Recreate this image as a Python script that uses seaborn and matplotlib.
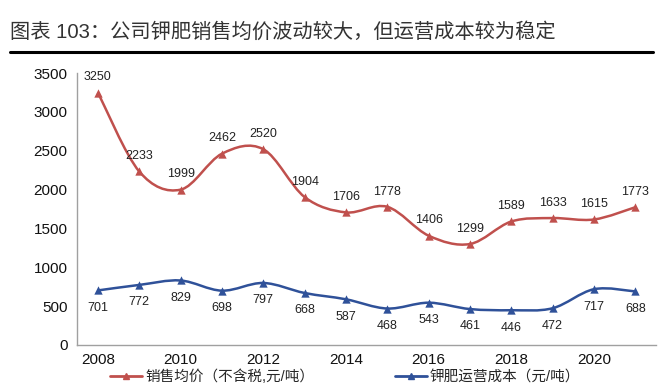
import numpy as np
import pandas as pd
import matplotlib
matplotlib.use("Agg")
import matplotlib.pyplot as plt
from matplotlib.path import Path
from matplotlib.patches import PathPatch
from matplotlib.lines import Line2D
import seaborn as sns

# data
years = [2008, 2009, 2010, 2011, 2012, 2013, 2014, 2015, 2016, 2017, 2018, 2019, 2020, 2021]
price = [3250, 2233, 1999, 2462, 2520, 1904, 1706, 1778, 1406, 1299, 1589, 1633, 1615, 1773]
cost = [701, 772, 829, 698, 797, 668, 587, 468, 543, 461, 446, 472, 717, 688]
price_label = "销售均价（不含税,元/吨）"
cost_label = "钾肥运营成本（元/吨）"
title = "图表 103：公司钾肥销售均价波动较大，但运营成本较为稳定"

red = "#C0504D"
blue = "#2F5199"

sns.set_style("white")
plt.rcParams["font.family"] = ["Liberation Sans", "Noto Sans CJK SC", "DejaVu Sans"]

df = pd.DataFrame({"pos": np.arange(len(years)), "price": price, "cost": cost})

fig = plt.figure(figsize=(6.6, 3.91), dpi=100)
ax = fig.add_axes([0.117, 0.118, 0.877, 0.695])


def smooth_path(x, y):
    # excel-style smoothed line: cubic bezier segments, catmull-rom control points
    x = np.asarray(x, float)
    y = np.asarray(y, float)
    n = len(x)
    verts = [(x[0], y[0])]
    codes = [Path.MOVETO]
    for i in range(n - 1):
        p0 = i - 1 if i > 0 else i
        p3 = i + 2 if i + 2 < n else i + 1
        c1 = (x[i] + (x[i + 1] - x[p0]) / 6, y[i] + (y[i + 1] - y[p0]) / 6)
        c2 = (x[i + 1] - (x[p3] - x[i]) / 6, y[i + 1] - (y[p3] - y[i]) / 6)
        verts += [c1, c2, (x[i + 1], y[i + 1])]
        codes += [Path.CURVE4] * 3
    return Path(verts, codes)


for col, c in [("price", red), ("cost", blue)]:
    ax.add_patch(PathPatch(smooth_path(df["pos"], df[col]), fill=False,
                           edgecolor=c, lw=1.8, zorder=2))
    sns.scatterplot(data=df, x="pos", y=col, marker="^", color=c, s=36,
                    edgecolor=c, linewidth=0, ax=ax, zorder=3, legend=False)

for xp, v in zip(df["pos"], price):
    ax.annotate(str(v), (xp, v), xytext=(0, 11), textcoords="offset points",
                ha="center", va="center", fontsize=9, color="#222222")
for xp, v in zip(df["pos"], cost):
    ax.annotate(str(v), (xp, v), xytext=(0, -12.5), textcoords="offset points",
                ha="center", va="center", fontsize=9, color="#222222")

ax.set_xlim(-0.5, len(years) - 0.5)
ax.set_ylim(0, 3500)
ax.set_yticks(range(0, 3501, 500))
ax.set_xticks(range(0, len(years), 2))
ax.set_xticklabels([str(y) for y in years[::2]])
ax.set_xticks(np.arange(-0.5, len(years), 1), minor=True)
ax.tick_params(axis="x", which="major", length=0, labelsize=11, pad=6, labelcolor="#111111")
ax.tick_params(axis="x", which="minor", length=4, color="#A0A0A0", width=1, direction="out")
ax.tick_params(axis="y", length=3, color="#A0A0A0", labelsize=11, labelcolor="#111111", pad=4)
ax.set_xlabel("")
ax.set_ylabel("")
ax.grid(False)
for s in ["top", "right"]:
    ax.spines[s].set_visible(False)
for s in ["left", "bottom"]:
    ax.spines[s].set_color("#A0A0A0")
    ax.spines[s].set_linewidth(1)

handles = [Line2D([], [], color=red, lw=2, marker="^", markersize=5),
           Line2D([], [], color=blue, lw=2, marker="^", markersize=5)]
fig.legend(handles, [price_label, cost_label], loc="lower center",
           bbox_to_anchor=(0.523, -0.015), ncol=2, frameon=False, fontsize=10.5,
           handlelength=2.2, handletextpad=0.2, columnspacing=5.5)

fig.text(0.015, 0.918, title, fontsize=14.6, color="#333333", va="center", ha="left")
fig.add_artist(Line2D([0.015, 0.99], [0.868, 0.868], color="black", lw=2.2,
                      transform=fig.transFigure))

fig.savefig("out.png", dpi=100)
